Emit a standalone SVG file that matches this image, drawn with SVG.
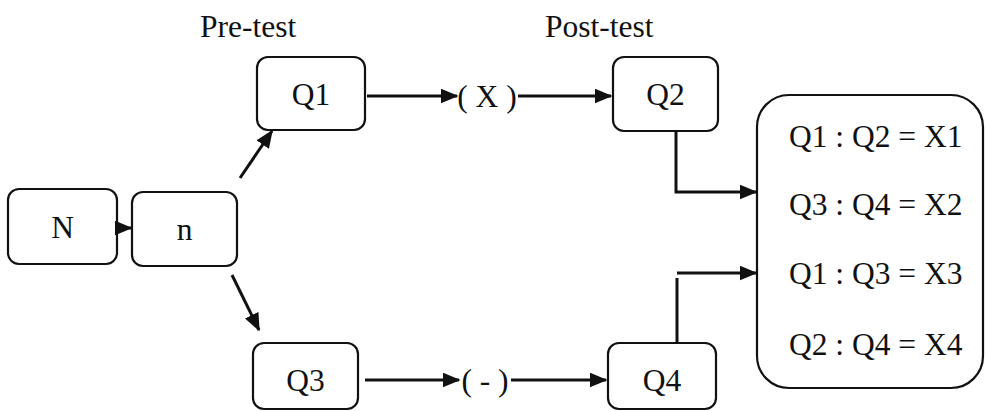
<svg xmlns="http://www.w3.org/2000/svg" width="986" height="411" viewBox="0 0 986 411">
<style>
.box{fill:#fff;stroke:#111;stroke-width:2.2}
.t{font-family:"Liberation Serif","Times New Roman",serif;font-size:31.5px;fill:#111}
.c{fill:none;stroke:#111;stroke-width:3}
</style>
<defs>
<marker id="ah" markerWidth="6" markerHeight="5" refX="5.5" refY="2.5" orient="auto" markerUnits="strokeWidth">
<path d="M0,0 L6,2.5 L0,5 Z" fill="#111"/>
</marker>
</defs>
<rect width="986" height="411" fill="#fff"/>
<text class="t" x="200" y="37">Pre-test</text>
<text class="t" x="545" y="37">Post-test</text>
<g id="N"><rect class="box" x="8" y="189" width="109" height="75" rx="11"/><text class="t" x="62.5" y="238" text-anchor="middle">N</text></g>
<g id="n"><rect class="box" x="132" y="192" width="105" height="74" rx="11"/><text class="t" x="184.5" y="240" text-anchor="middle">n</text></g>
<g id="Q1"><rect class="box" x="257" y="57" width="108" height="73" rx="11"/><text class="t" x="311" y="105" text-anchor="middle">Q1</text></g>
<g id="Q2"><rect class="box" x="613" y="57" width="105" height="74" rx="11"/><text class="t" x="665.5" y="105" text-anchor="middle">Q2</text></g>
<g id="Q3"><rect class="box" x="253" y="343" width="105" height="66" rx="11"/><text class="t" x="305.5" y="391" text-anchor="middle">Q3</text></g>
<g id="Q4"><rect class="box" x="608" y="343" width="108" height="66" rx="11"/><text class="t" x="662" y="391" text-anchor="middle">Q4</text></g>
<g id="X"><text class="t" x="487" y="107" text-anchor="middle">( X )</text></g>
<g id="minus"><text class="t" x="485" y="391" text-anchor="middle">( - )</text></g>
<g id="results"><rect class="box" x="757" y="95" width="226" height="293" rx="32"/>
<text class="t" x="789" y="147">Q1 : Q2 = X1</text>
<text class="t" x="789" y="215">Q3 : Q4 = X2</text>
<text class="t" x="789" y="284">Q1 : Q3 = X3</text>
<text class="t" x="789" y="355">Q2 : Q4 = X4</text>
</g>
<g id="connectors">
<path class="c" d="M117,228 L131,228" marker-end="url(#ah)"/>
<path class="c" d="M240,178 L272,131" marker-end="url(#ah)"/>
<path class="c" d="M232,275 L259,330" marker-end="url(#ah)"/>
<path class="c" d="M367,96 L457,96" marker-end="url(#ah)"/>
<path class="c" d="M518,96 L611,96" marker-end="url(#ah)"/>
<path class="c" d="M365,380 L459,380" marker-end="url(#ah)"/>
<path class="c" d="M511,380 L606,380" marker-end="url(#ah)"/>
<path class="c" d="M676,131 L676,192 L756,192" marker-end="url(#ah)"/>
<path class="c" d="M677,343 L677,278"/>
<path class="c" d="M677,273 L756,273" marker-end="url(#ah)"/>
</g>
</svg>
